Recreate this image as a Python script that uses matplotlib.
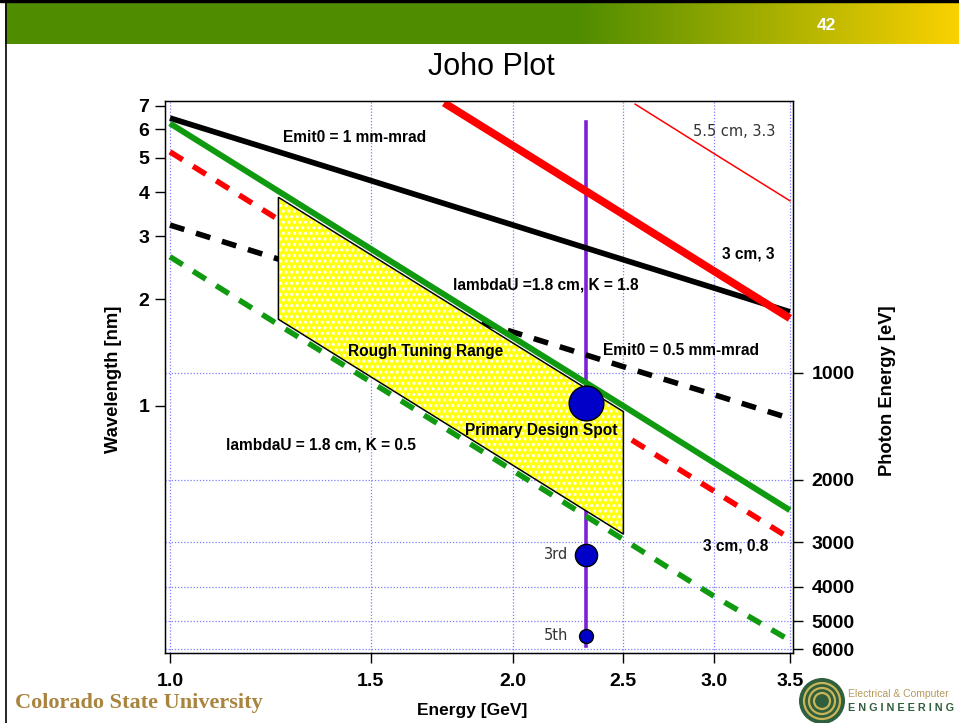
import numpy as np
import matplotlib
matplotlib.use("Agg")
import matplotlib.pyplot as plt
from matplotlib.patches import Circle, Rectangle
from matplotlib.ticker import NullLocator

plt.rcParams['font.family'] = ['Liberation Sans', 'DejaVu Sans']
plt.rcParams['hatch.linewidth'] = 1.4

HC = 1239.84  # eV * nm

# values (energy in GeV, wavelength in nm)
energy = [1.0, 1.25, 1.5, 2.0, 2.5, 3.0, 3.5]
emit1_solid = [6.46, 5.17, 4.31, 3.23, 2.58, 2.15, 1.84]
emit05_dash = [3.23, 2.58, 2.15, 1.615, 1.29, 1.077, 0.923]
k18_solid = [6.24, 3.99, 2.77, 1.56, 1.00, 0.693, 0.509]
k05_dash = [2.63, 1.68, 1.17, 0.658, 0.421, 0.292, 0.219]
cm3_k08_dash = [5.19, 3.32, 2.31, 1.30, 0.83, 0.577, 0.424]

energy_3cm = [1.74, 2.0, 2.5, 3.0, 3.5]
cm3_k3 = [7.13, 5.40, 3.46, 2.40, 1.765]
energy_55cm = [2.56, 3.0, 3.5]
cm55_k33 = [7.07, 5.14, 3.78]

tuning_e = [1.245, 1.245, 2.5, 2.5]
tuning_wl = [1.754, 3.866, 0.964, 0.436]

design_e = 2.32
design_line_wl = [0.211, 6.3]
harmonic_wl = [1.022, 0.381, 0.2254]
harmonic_size = [25, 16, 10]
harmonic_labels = ['', '3rd', '5th']

photon_ticks = [1000, 2000, 3000, 4000, 5000, 6000]
wl_ticks = [1, 2, 3, 4, 5, 6, 7]
e_ticks = [1.0, 1.5, 2.0, 2.5, 3.0, 3.5]

W, H = 959, 723
fig = plt.figure(figsize=(W / 100, H / 100), dpi=100)

# ---- slide decoration (pixel coords) ----
bg = fig.add_axes([0, 0, 1, 1], zorder=-1)
bg.set_xlim(0, W)
bg.set_ylim(H, 0)
bg.axis('off')

t = np.linspace(0, 1, 500)
green = np.array([0.31, 0.55, 0.0])
yellow = np.array([0.98, 0.82, 0.0])
mix = np.clip((t - 0.6) / 0.4, 0, 1)[:, None]
grad = (green * (1 - mix) + yellow * mix)[None, :, :]
bg.imshow(grad, extent=(5, W, 44, 2), aspect='auto', interpolation='bilinear')
bg.add_patch(Rectangle((0, 0), W, 2, color='black'))
bg.plot([5.5, 5.5], [0, H], color='black', lw=1.2)
bg.text(826, 25, "42", color='white', fontsize=12.5, fontweight='bold',
        ha='center', va='center')
bg.text(491, 67, "Joho Plot", fontsize=22, ha='center', va='center')

bg.text(15, 703, "Colorado State University", color='#a9843f', fontsize=16,
        family='Liberation Serif', fontweight='bold', ha='left', va='center')
bg.add_patch(Circle((822, 701), 23, facecolor='#2f5f3d', edgecolor='none'))
for r in [18, 13, 8]:
    bg.add_patch(Circle((822, 701), r, facecolor='none', edgecolor='#c9b458', lw=1.6))
bg.text(848, 694, "Electrical & Computer", color='#b39a5a', fontsize=7.5,
        ha='left', va='center')
bg.text(848, 708, "E N G I N E E R I N G", color='#2f5f3d', fontsize=7.8,
        fontweight='bold', ha='left', va='center')

# ---- main chart ----
ax = fig.add_axes([165 / W, 70 / H, 628 / W, 552 / H])
ax.set_xscale('log')
ax.set_yscale('log')
ax.set_xlim(0.99, 3.522)
ax.set_ylim(0.2018, 7.215)

grid_kw = dict(color='#7f7fff', lw=0.9, ls=(0, (1, 1.5)), zorder=0.5)
for e in e_ticks:
    ax.axvline(e, **grid_kw)
for ev in photon_ticks:
    ax.axhline(HC / ev, **grid_kw)

dash = (0, (2.7, 2.2))
ax.plot(energy, cm3_k08_dash, color='red', lw=4, ls=dash, dash_capstyle='butt', zorder=1.6)
ax.plot(energy, emit05_dash, color='black', lw=4, ls=dash, dash_capstyle='butt', zorder=1.6)
ax.plot(energy, k05_dash, color='#0f9a0f', lw=4, ls=dash, dash_capstyle='butt', zorder=1.6)
ax.plot([design_e, design_e], design_line_wl, color='#7b22d6', lw=2.6, zorder=1.5)

ax.fill(tuning_e, tuning_wl, facecolor='#ffff10', edgecolor='white', lw=0,
        hatch='...', zorder=2)
ax.fill(tuning_e, tuning_wl, facecolor='none', edgecolor='black', lw=1.1, zorder=2.1)

ax.plot(energy, emit1_solid, color='black', lw=4.1, zorder=3, solid_capstyle='butt')
ax.plot(energy, k18_solid, color='#0f9a0f', lw=4.3, zorder=3, solid_capstyle='butt')
ax.plot(energy_3cm, cm3_k3, color='red', lw=5.6, zorder=3, solid_capstyle='butt')
ax.plot(energy_55cm, cm55_k33, color='red', lw=1.1, zorder=3)

for wl, ms, lab in zip(harmonic_wl, harmonic_size, harmonic_labels):
    ax.plot(design_e, wl, 'o', ms=ms, markerfacecolor='#0000c8',
            markeredgecolor='black', markeredgewidth=1, zorder=4)
    if lab:
        ax.text(2.236, wl, lab, fontsize=10.5, family='DejaVu Sans', color='#333333',
                ha='right', va='center', zorder=5)

labels = [
    ("Emit0 = 1 mm-mrad", 1.256, 5.71, 'bold'),
    ("5.5 cm, 3.3", 2.877, 5.91, 'normal'),
    ("3 cm, 3", 3.049, 2.672, 'bold'),
    ("lambdaU =1.8 cm, K = 1.8", 1.771, 2.19, 'bold'),
    ("Emit0 = 0.5 mm-mrad", 2.398, 1.437, 'bold'),
    ("Rough Tuning Range", 1.433, 1.421, 'bold'),
    ("Primary Design Spot", 1.815, 0.851, 'bold'),
    ("lambdaU = 1.8 cm, K = 0.5", 1.121, 0.777, 'bold'),
    ("3 cm, 0.8", 2.938, 0.4037, 'bold'),
]
for txt, x, y, wt in labels:
    if wt == 'normal':
        ax.text(x, y, txt, fontsize=10.5, family='DejaVu Sans', color='#333333',
                ha='left', va='center', zorder=5)
    else:
        ax.text(x, y, txt, fontsize=11.2, fontweight='bold', ha='left',
                va='center', zorder=5)

ax.set_xticks(e_ticks)
ax.set_xticklabels([f"{e:.1f}" for e in e_ticks])
ax.set_yticks(wl_ticks)
ax.set_yticklabels([str(v) for v in wl_ticks])
ax.xaxis.set_minor_locator(NullLocator())
ax.yaxis.set_minor_locator(NullLocator())
ax.tick_params(axis='x', direction='out', length=7.2, width=1, pad=7, labelsize=14)
ax.tick_params(axis='y', direction='out', length=7.2, width=1, pad=4, labelsize=14)
for lab in ax.get_xticklabels() + ax.get_yticklabels():
    lab.set_fontweight('bold')
for sp in ax.spines.values():
    sp.set_linewidth(1)

ax2 = ax.twinx()
ax2.set_yscale('log')
ax2.set_ylim(ax.get_ylim())
ax2.set_yticks([HC / ev for ev in photon_ticks])
ax2.set_yticklabels([str(ev) for ev in photon_ticks])
ax2.yaxis.set_minor_locator(NullLocator())
ax2.tick_params(axis='y', direction='out', length=7.2, width=1, pad=6, labelsize=14)
for lab in ax2.get_yticklabels():
    lab.set_fontweight('bold')

fig.text(113 / W, 1 - 379 / H, "Wavelength [nm]", rotation=90, fontsize=13.2,
         fontweight='bold', ha='center', va='center')
fig.text(887 / W, 1 - 391 / H, "Photon Energy [eV]", rotation=90, fontsize=13.2,
         fontweight='bold', ha='center', va='center')
fig.text(472 / W, 1 - 710 / H, "Energy [GeV]", fontsize=12.5,
         fontweight='bold', ha='center', va='center')

fig.savefig("out.png", dpi=100)
